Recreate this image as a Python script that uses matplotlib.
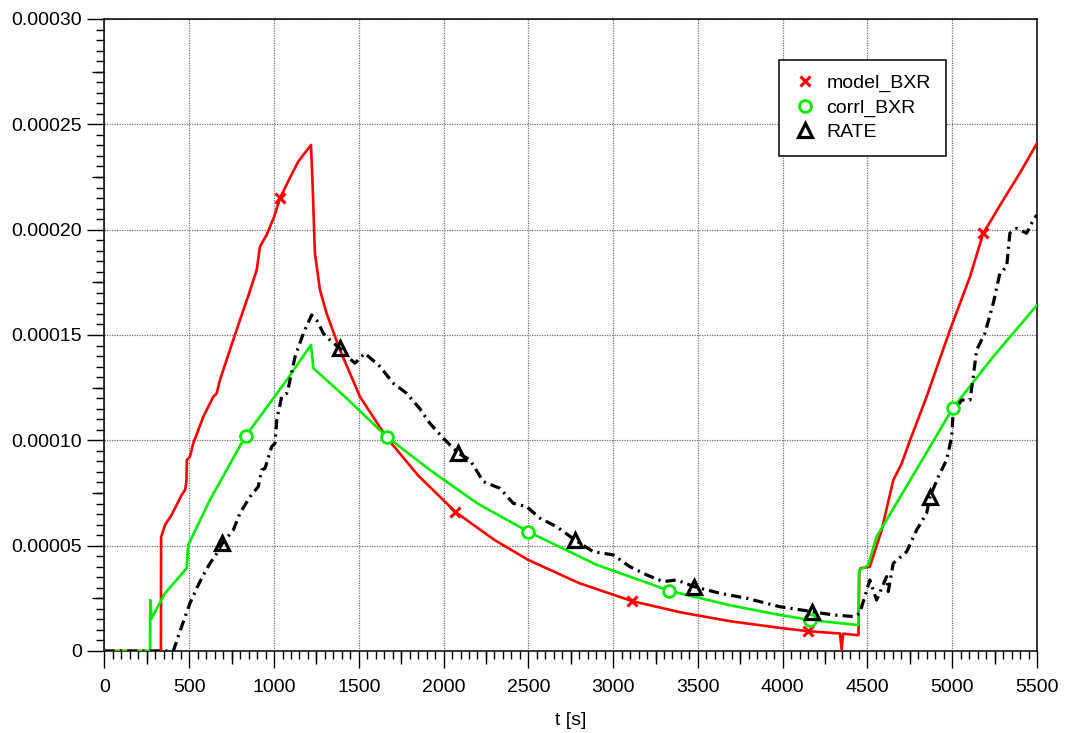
import numpy as np
import matplotlib
matplotlib.use('Agg')
import matplotlib.pyplot as plt
from matplotlib.lines import Line2D
from matplotlib.ticker import MultipleLocator, FuncFormatter

plt.rcParams['font.family'] = ['Liberation Sans', 'DejaVu Sans']
plt.rcParams['font.size'] = 14

# model_BXR
t_model = [0, 333, 334, 357, 396, 455, 475, 483, 486, 504, 524, 583, 642, 662, 681,
           740, 799, 850, 898, 917, 956, 1000, 1035, 1090, 1143, 1218, 1228, 1241,
           1271, 1310, 1389, 1507, 1667, 1850, 2070, 2300, 2500, 2800, 3111, 3400,
           3700, 4000, 4150, 4338, 4348, 4356, 4440, 4447, 4452, 4460, 4514, 4584,
           4652, 4702, 4751, 4849, 4987, 5105, 5183, 5301, 5400, 5500]
v_model = [0, 0, 5.4e-5, 5.98e-5, 6.46e-5, 7.4e-5, 7.64e-5, 8.0e-5, 9.07e-5, 9.22e-5,
           9.86e-5, 1.112e-4, 1.207e-4, 1.223e-4, 1.286e-4, 1.43e-4, 1.571e-4, 1.69e-4,
           1.809e-4, 1.919e-4, 1.975e-4, 2.06e-4, 2.149e-4, 2.24e-4, 2.323e-4, 2.402e-4,
           2.204e-4, 1.889e-4, 1.714e-4, 1.603e-4, 1.429e-4, 1.207e-4, 1.01e-4, 8.33e-5,
           6.6e-5, 5.27e-5, 4.32e-5, 3.22e-5, 2.37e-5, 1.83e-5, 1.40e-5, 1.08e-5, 9.4e-6,
           8.3e-6, 0.5e-6, 8.2e-6, 7.5e-6, 7.5e-6, 3.8e-5, 3.93e-5, 4.0e-5, 5.74e-5,
           8.1e-5, 8.9e-5, 1.0e-4, 1.207e-4, 1.524e-4, 1.777e-4, 1.983e-4, 2.141e-4,
           2.27e-4, 2.41e-4]

# corrl_BXR
t_corrl = [0, 269, 270, 278, 357, 485, 494, 622, 829, 1075, 1218, 1232, 1418, 1667,
           1920, 2200, 2500, 2900, 3331, 3700, 3984, 4161, 4446, 4450, 4455, 4505, 4554,
           4731, 5003, 5242, 5500]
v_corrl = [0, 0, 2.42e-5, 1.55e-5, 2.74e-5, 3.93e-5, 5.03e-5, 7.17e-5, 1.016e-4,
           1.286e-4, 1.453e-4, 1.342e-4, 1.207e-4, 1.016e-4, 8.59e-5, 7.0e-5, 5.66e-5,
           4.1e-5, 2.86e-5, 2.15e-5, 1.71e-5, 1.47e-5, 1.23e-5, 3.7e-5, 3.85e-5, 4.08e-5,
           5.43e-5, 7.82e-5, 1.152e-4, 1.397e-4, 1.642e-4]

# RATE
t_rate = [0, 406, 440, 470, 504, 545, 583, 622, 660, 695, 760, 799, 858, 907, 927, 947,
          986, 1006, 1016, 1045, 1075, 1084, 1124, 1173, 1222, 1251, 1291, 1340, 1389,
          1430, 1477, 1536, 1625, 1703, 1782, 1860, 1919, 1998, 2087, 2156, 2234, 2333,
          2411, 2490, 2569, 2667, 2775, 2883, 3001, 3099, 3198, 3296, 3375, 3479, 3630,
          3788, 3984, 4171, 4298, 4426, 4455, 4514, 4554, 4613, 4623, 4652, 4731, 4790,
          4849, 4869, 4918, 4967, 4997, 5006, 5056, 5105, 5124, 5144, 5193, 5242, 5281,
          5321, 5340, 5380, 5439, 5478, 5500]
v_rate = [0, 0, 8e-6, 1.5e-5, 2.26e-5, 3.0e-5, 3.6e-5, 4.16e-5, 4.6e-5, 5.11e-5, 5.74e-5,
          6.54e-5, 7.32e-5, 7.8e-5, 8.59e-5, 8.67e-5, 9.7e-5, 9.86e-5, 1.097e-4, 1.207e-4,
          1.223e-4, 1.247e-4, 1.397e-4, 1.508e-4, 1.595e-4, 1.571e-4, 1.508e-4, 1.468e-4,
          1.437e-4, 1.40e-4, 1.366e-4, 1.413e-4, 1.35e-4, 1.271e-4, 1.223e-4, 1.15e-4,
          1.081e-4, 1.01e-4, 9.39e-5, 9.07e-5, 8.04e-5, 7.72e-5, 7.01e-5, 6.85e-5, 6.3e-5,
          5.9e-5, 5.27e-5, 4.71e-5, 4.56e-5, 4.0e-5, 3.61e-5, 3.29e-5, 3.37e-5, 3.05e-5,
          2.74e-5, 2.5e-5, 2.1e-5, 1.87e-5, 1.71e-5, 1.63e-5, 1.8e-5, 3.37e-5, 2.42e-5,
          3.53e-5, 2.82e-5, 4.16e-5, 4.71e-5, 5.74e-5, 6.54e-5, 7.32e-5, 8.27e-5, 9.07e-5,
          1.017e-4, 1.136e-4, 1.191e-4, 1.191e-4, 1.302e-4, 1.429e-4, 1.508e-4, 1.65e-4,
          1.793e-4, 1.824e-4, 1.983e-4, 2.006e-4, 1.983e-4, 2.046e-4, 2.07e-4]

# symbol positions along each curve
mk_model = [1037, 2070, 3111, 4150, 5183]
mk_corrl = [833, 1667, 2500, 3331, 4161, 5003]
mk_rate = [695, 1389, 2087, 2775, 3479, 4171, 4869]

RED = '#ff0000'
GREEN = '#00ee00'
BLACK = '#000000'

fig = plt.figure(figsize=(10.65, 7.33), dpi=100)
ax = fig.add_axes([0.0981, 0.1119, 0.8756, 0.8622])

ax.plot(t_model, v_model, color=RED, lw=1.9, zorder=3)
ax.plot(mk_model, np.interp(mk_model, t_model, v_model), ls='none', marker='x',
        ms=7, mew=2.2, color=RED, zorder=4)

ax.plot(t_corrl, v_corrl, color=GREEN, lw=1.9, zorder=3)
ax.plot(mk_corrl, np.interp(mk_corrl, t_corrl, v_corrl), ls='none', marker='o',
        ms=8.5, mew=2.0, mfc='white', mec=GREEN, zorder=4)

ax.plot(t_rate, v_rate, color=BLACK, lw=2.3, ls=(0, (3.2, 1.6, 0.7, 1.6)), zorder=3)
ax.plot(mk_rate, np.interp(mk_rate, t_rate, v_rate), ls='none', marker='^',
        ms=10, mew=2.3, mfc='none', mec=BLACK, zorder=4)

ax.set_xlim(0, 5500)
ax.set_ylim(0, 0.0003)

ax.xaxis.set_major_locator(MultipleLocator(500))
ax.xaxis.set_minor_locator(MultipleLocator(50))
ax.yaxis.set_major_locator(MultipleLocator(0.00005))
ax.yaxis.set_minor_locator(MultipleLocator(0.000005))
ax.yaxis.set_major_formatter(FuncFormatter(lambda v, _: '0' if abs(v) < 1e-12 else f'{v:.5f}'))
ax.xaxis.set_major_formatter(FuncFormatter(lambda v, _: f'{v:.0f}'))

ax.tick_params(which='major', direction='out', length=12, width=1.0, pad=4)
ax.tick_params(which='minor', direction='out', length=6, width=1.0)
ax.tick_params(axis='x', which='major', pad=8)

# half-way ticks, a bit longer than the minor ones
secx = ax.secondary_xaxis('bottom')
secx.set_xticks(np.arange(250, 5500, 500))
secx.tick_params(length=9, width=1.0, labelbottom=False)
secx.spines['bottom'].set_visible(False)
secy = ax.secondary_yaxis('left')
secy.set_yticks(np.arange(0.000025, 0.0003, 0.00005))
secy.tick_params(length=9, width=1.0, labelleft=False)
secy.spines['left'].set_visible(False)

ax.grid(which='major', color='#707070', lw=0.9, ls=(0, (1, 1)))
ax.set_axisbelow(True)
for s in ax.spines.values():
    s.set_linewidth(1.1)

ax.set_xlabel('t [s]', labelpad=12)

handles = [
    Line2D([], [], ls='none', marker='x', ms=7, mew=2.2, color=RED),
    Line2D([], [], ls='none', marker='o', ms=8.5, mew=2.0, mfc='white', mec=GREEN),
    Line2D([], [], ls='none', marker='^', ms=10, mew=2.3, mfc='none', mec=BLACK),
]
leg = ax.legend(handles, ['model_BXR', 'corrl_BXR', 'RATE'], loc='upper left',
                bbox_to_anchor=(0.7233, 0.935), fancybox=False, framealpha=1,
                edgecolor='black', handlelength=1.2, handletextpad=0.5,
                labelspacing=0.34, borderpad=0.75, borderaxespad=0)
leg.get_frame().set_linewidth(1.1)

fig.savefig('out.png', dpi=100)
